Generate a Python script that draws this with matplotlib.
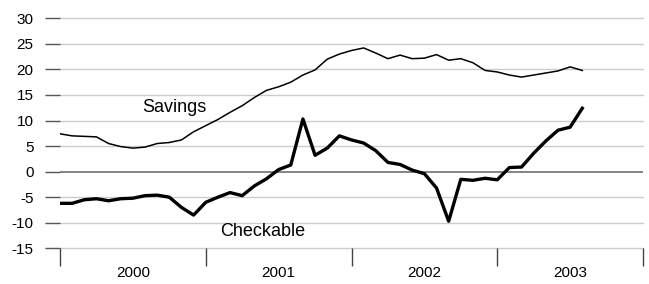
import matplotlib
matplotlib.use("Agg")
import matplotlib.pyplot as plt

plt.rcParams['font.family'] = ['Liberation Sans', 'DejaVu Sans']

# Monthly values, Jan 2000 .. Aug 2003 (month index 0..43)
savings = [7.4, 7.0, 6.9, 6.8, 5.5, 4.9, 4.6, 4.8, 5.5, 5.7, 6.2, 7.8,
           9.0, 10.2, 11.6, 12.9, 14.5, 15.9, 16.6, 17.5, 18.9, 19.9, 22.0, 23.0,
           23.7, 24.2, 23.2, 22.1, 22.8, 22.1, 22.2, 22.9, 21.8, 22.1, 21.3, 19.8,
           19.5, 18.9, 18.5, 18.9, 19.3, 19.7, 20.5, 19.8]
checkable = [-6.2, -6.2, -5.5, -5.3, -5.7, -5.3, -5.2, -4.7, -4.6, -5.0, -7.0, -8.5,
             -6.0, -5.0, -4.1, -4.7, -2.8, -1.4, 0.4, 1.3, 10.3, 3.2, 4.6, 7.0,
             6.2, 5.6, 4.1, 1.8, 1.4, 0.3, -0.4, -3.2, -9.7, -1.5, -1.7, -1.3,
             -1.6, 0.8, 0.9, 3.6, 6.0, 8.1, 8.7, 12.4]
years = ["2000", "2001", "2002", "2003"]
yticks = [-15, -10, -5, 0, 5, 10, 15, 20, 25, 30]
gridvals = [-15, -10, -5, 5, 10, 15, 20, 25, 30]

fig = plt.figure(figsize=(6.49, 2.84), dpi=100)
ax = fig.add_axes([60/649, 1 - 248.3/284, 583/649, 230/284])

months = list(range(len(savings)))
for g in gridvals:
    ax.axhline(g, color='#cccccc', lw=1.0, zorder=1, clip_on=False)
ax.axhline(0, color='#707070', lw=1.2, zorder=1)

ax.plot(months, savings, color='black', lw=1.1, zorder=3)
ax.plot(months, checkable, color='black', lw=2.4, zorder=3)

ax.set_xlim(0, 48)
ax.set_ylim(-15, 30)
for s in ax.spines.values():
    s.set_visible(False)

ax.set_yticks(yticks)
ax.set_yticklabels([str(v) for v in yticks])
ax.tick_params(axis='y', length=11, width=1.0, color='#555555', pad=8,
               labelsize=11, labelcolor='black')

ax.set_xticks([0, 12, 24, 36, 48])
ax.set_xticklabels([])
ax.tick_params(axis='x', which='major', length=13, width=1.0, color='#444444')
ax.set_xticks([6, 18, 30, 42], minor=True)
ax.set_xticklabels(years, minor=True)
ax.tick_params(axis='x', which='minor', length=0, pad=13, labelsize=11)

ax.text(9.4, 12.6, "Savings", fontsize=13, ha='center', va='center')
ax.text(16.7, -11.8, "Checkable", fontsize=13, ha='center', va='center')

fig.savefig("out.png", dpi=100)
